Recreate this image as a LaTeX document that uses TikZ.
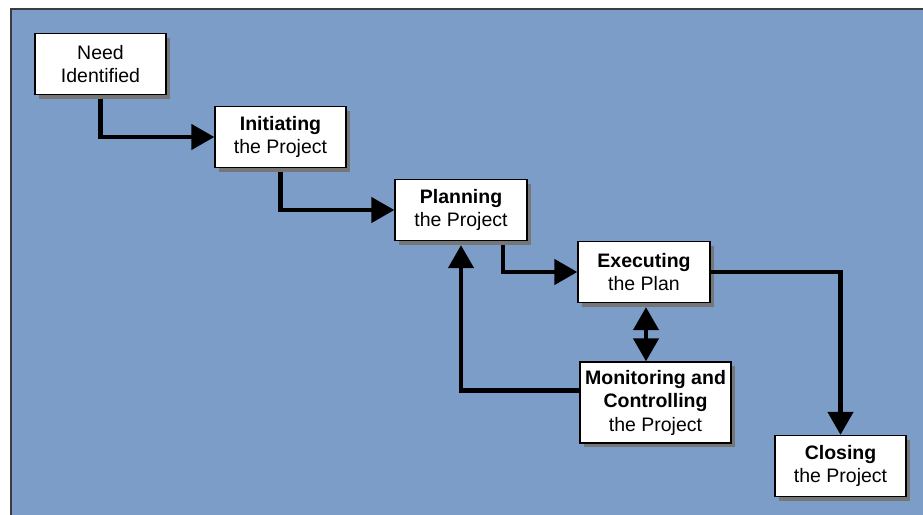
\documentclass[tikz,border=0pt]{standalone}
\usepackage{fontspec}
\setmainfont{Liberation Sans}
\usetikzlibrary{arrows.meta,shadows}
\definecolor{panelblue}{RGB}{125,157,201}
\definecolor{framegray}{RGB}{60,60,60}
\definecolor{shadowgray}{RGB}{118,118,118}

\begin{document}
\begin{tikzpicture}[
	x=1pt, y=-1pt,
	> = {Triangle[length=23pt,width=25pt]},
	stage/.style = {draw=black, line width=1.3pt, fill=white, align=center, inner sep=0pt,
		minimum width=131pt, minimum height=61pt, font=\fontsize{19.5}{23.5}\selectfont,
		drop shadow={shadow xshift=4pt, shadow yshift=-4pt, opacity=1, fill=shadowgray}},
	flow/.style = {->, line width=4.5pt}
	]
	\useasboundingbox (0,0) rectangle (923,514);
	\clip (0,0) rectangle (923,514);
	\draw[fill=panelblue, draw=framegray, line width=1.6pt] (11,9) rectangle (950,540);

	\node[stage] (need) at (100.5,64) {Need\\Identified};
	\node[stage] (init) at (280.5,137) {\textbf{Initiating}\\the Project};
	\node[stage, minimum width=132pt] (plan) at (461,210) {\textbf{Planning}\\the Project};
	\node[stage, minimum width=132pt] (exec) at (644,272) {\textbf{Executing}\\the Plan};
	\node[stage, minimum width=151pt, minimum height=81pt] (mon) at (655.5,402.5) {\textbf{Monitoring and}\\\textbf{Controlling}\\the Project};
	\node[stage] (close) at (840.5,466) {\textbf{Closing}\\the Project};

	\draw[flow, shorten <=4pt] (need) |- (init);
	\draw[flow, shorten <=4pt] (init) |- (plan);
	\draw[flow, shorten <=4pt] ([xshift=42pt]plan.south) |- (exec);
	\draw[flow] (exec) -| (close);
	\draw[<->, line width=4.5pt, shorten <=4pt] ([xshift=2pt]exec.south) -- ([xshift=2pt]exec.south |- mon.north);
	\draw[flow, shorten >=4pt] ([yshift=12pt]mon.west) -| (plan);

\end{tikzpicture}
\end{document}
